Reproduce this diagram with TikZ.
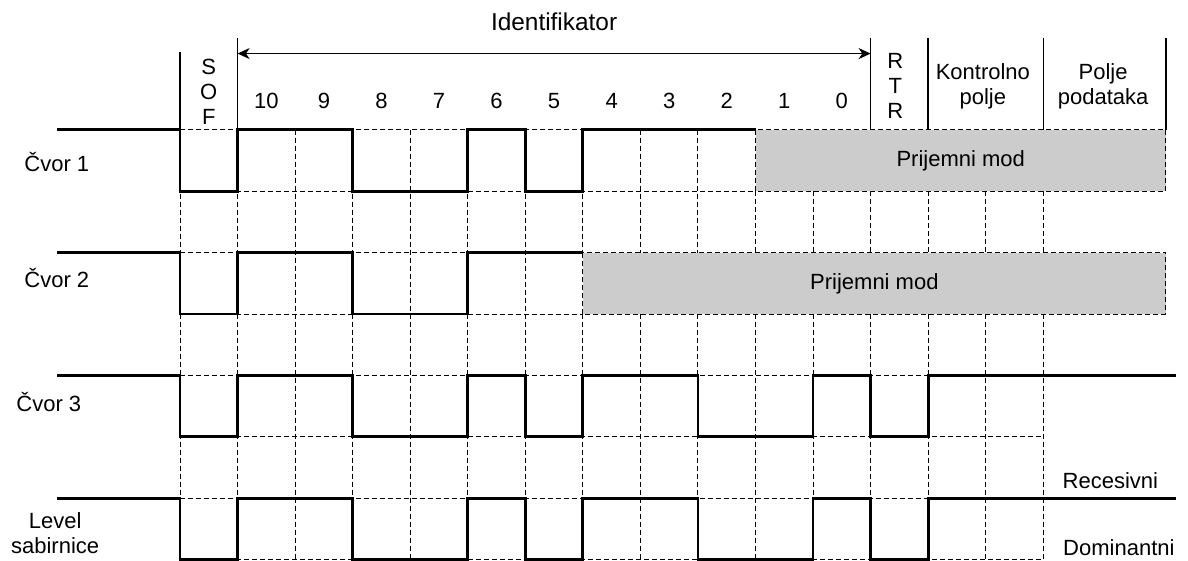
\documentclass[tikz,border=0pt]{standalone}
\usepackage{fontspec}
\setmainfont{Liberation Sans}
\usepackage{xcolor}
\usepackage{tikz}
\usetikzlibrary{arrows.meta, positioning, calc}

\begin{document}
\begin{tikzpicture}[x=28.775pt, y=-30.715pt,
		every node/.style={font=\fontsize{11}{12.5}\selectfont, inner sep=0pt, align=center},
		signal/.style={line width=1.4pt, line join=miter},
		gridline/.style={line width=0.5pt, dash pattern=on 2.5pt off 1.5pt},
		headline/.style={line width=0.75pt},
		rxbox/.style={gridline, fill=gray!40},
		>={Stealth[length=6pt, width=5.5pt, inset=1.8pt]}]
	\useasboundingbox (-3.128,-2.112) rectangle (17.515,7.02);
	
	\foreach \k/\e in {0/10, 1/10, 2/7, 3/7, 4/15, 5/15, 6/15, 7/15}
		\draw [gridline] (0,\k) -- (\e,\k);
	\foreach \u in {0,...,6}
		\draw [gridline] (\u,0) -- (\u,7);
	\foreach \u in {7,8,9}
		\draw [gridline] (\u,0) -- (\u,2) (\u,3) -- (\u,7);
	\foreach \u in {10,...,15}
		\draw [gridline] (\u,1) -- (\u,2) (\u,3) -- (\u,7);
	
	\draw [rxbox] (10,0) rectangle (17.13,1);
	\draw [rxbox] (7,2) rectangle (17.13,3);
	\node (rx1) at (13.565,0.5) {Prijemni mod};
	\node (rx2) at (12.065,2.5) {Prijemni mod};
	
	\draw [headline] (0,-1.27) -- (0,0);
	\foreach \u in {1,12,13,15,17.13}
		\draw [headline] (\u,-1.49) -- (\u,0);
	\coordinate (idleft) at (1,-1.24);
	\coordinate (idright) at (12,-1.24);
	\draw [headline, <->] (idleft) -- (idright);
	\node [font=\fontsize{12.2}{14}\selectfont] (ident) at (6.5,-1.76) {Identifikator};
	
	\node (sof) at (0.5,-0.62) {S\\O\\F};
	\foreach \n in {0,...,10}
		\node (bit\n) at (11.5-\n,-0.47) {\n};
	\node (rtr) at (12.43,-0.72) {R\\T\\R};
	\node (ctrl) at (13.95,-0.71) {Kontrolno\\polje};
	\node (data) at (16.04,-0.71) {Polje\\podataka};
	
	\node [anchor=west] (cvor1) at (-2.71,0.52) {Čvor 1};
	\node [anchor=west] (cvor2) at (-2.71,2.42) {Čvor 2};
	\node [anchor=west] (cvor3) at (-2.85,4.43) {Čvor 3};
	\node (bus) at (-2.17,6.57) {Level\\sabirnice};
	\node [anchor=west] (rec) at (15.33,5.71) {Recesivni};
	\node [anchor=west] (dom) at (15.34,6.8) {Dominantni};
	
	\draw [signal] (-2.14,0) -- (0,0) -- (0,1) -- (1,1) -- (1,0) -- (3,0) -- (3,1) -- (5,1) -- (5,0) -- (6,0) -- (6,1) -- (7,1) -- (7,0) -- (10,0);
	\draw [signal] (-2.14,2) -- (0,2) -- (0,3) -- (1,3) -- (1,2) -- (3,2) -- (3,3) -- (5,3) -- (5,2) -- (7,2);
	\draw [signal] (-2.14,4) -- (0,4) -- (0,5) -- (1,5) -- (1,4) -- (3,4) -- (3,5) -- (5,5) -- (5,4) -- (6,4) -- (6,5) -- (7,5) -- (7,4) -- (9,4) -- (9,5) -- (11,5) -- (11,4) -- (12,4) -- (12,5) -- (13,5) -- (13,4) -- (17.3,4);
	\draw [signal] (-2.14,6) -- (0,6) -- (0,7) -- (1,7) -- (1,6) -- (3,6) -- (3,7) -- (5,7) -- (5,6) -- (6,6) -- (6,7) -- (7,7) -- (7,6) -- (9,6) -- (9,7) -- (11,7) -- (11,6) -- (12,6) -- (12,7) -- (13,7) -- (13,6) -- (17.3,6);
\end{tikzpicture}
\end{document}
